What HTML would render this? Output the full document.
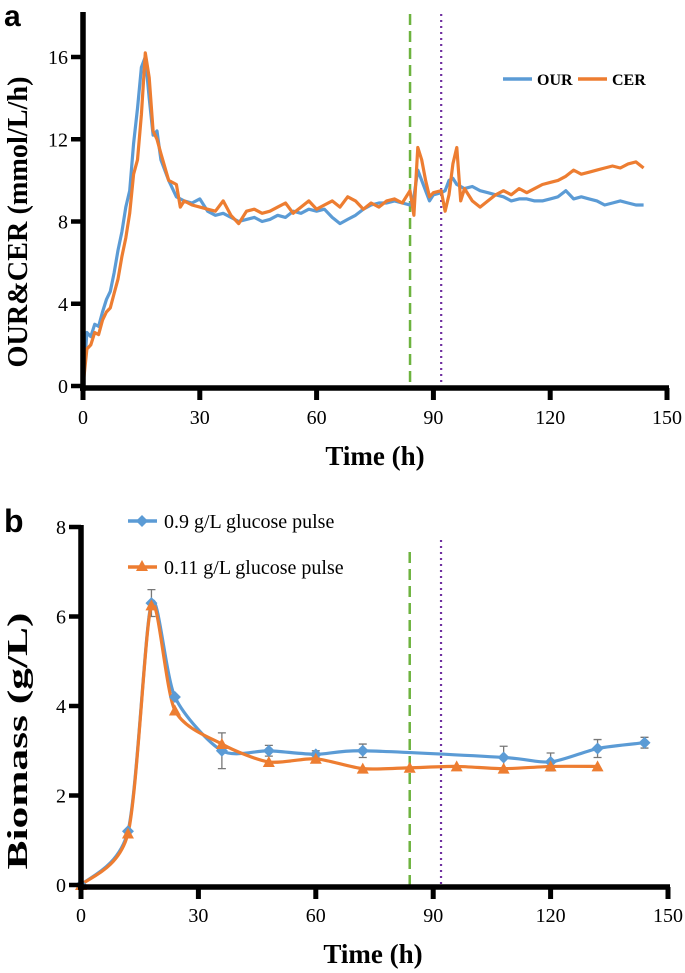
<!DOCTYPE html>
<html><head><meta charset="utf-8"><style>
html,body{margin:0;padding:0;background:#fff}
svg{display:block}
text{font-family:"Liberation Serif",serif;fill:#000}
</style></head><body>
<svg id="chart" width="685" height="973" viewBox="0 0 685 973"></svg>
<script>
// ---- Panel a data ----
const aTime = [0,1,2,3,4,5,6,7,8,9,10,11,12,13,14,15,16,17,18,19,20,22,24,25,26,28,30,32,34,36,38,40,42,44,46,48,50,52,54,56,58,60,62,64,66,68,70,72,74,76,78,80,82,84,85,86,87,88,89,90,92,93,94,95,96,97,98,100,102,104,106,108,110,112,114,116,118,120,122,124,126,128,130,132,134,136,138,140,142,144];
const ourValues = [0,2.6,2.4,3,2.9,3.6,4.2,4.6,5.5,6.6,7.5,8.7,9.5,11.8,13.5,15.5,16,14,12.2,12.4,11,10,9.2,9.1,9,8.9,9.1,8.5,8.3,8.4,8.2,8.0,8.1,8.2,8.0,8.1,8.3,8.2,8.5,8.4,8.6,8.5,8.6,8.2,7.9,8.1,8.3,8.6,8.8,8.9,8.9,9.0,8.9,8.8,9.2,10.5,10,9.5,9.0,9.3,9.4,9.5,10.0,10.1,9.8,9.7,9.6,9.7,9.5,9.4,9.3,9.2,9.0,9.1,9.1,9.0,9.0,9.1,9.2,9.5,9.1,9.2,9.1,9.0,8.8,8.9,9.0,8.9,8.8,8.8];
const cerValues = [0,1.8,2.0,2.6,2.5,3.2,3.6,3.8,4.5,5.2,6.3,7.2,8.4,10.3,11,13.2,16.2,15,12.4,12.0,11.3,10,9.8,8.7,9.0,8.8,8.7,8.6,8.5,9.0,8.3,7.9,8.5,8.6,8.4,8.5,8.7,8.9,8.4,8.7,9.0,8.6,8.8,9.0,8.7,9.2,9.0,8.6,8.9,8.7,9.0,9.1,8.9,9.5,8.3,11.6,11,10,9.2,9.4,9.5,8.5,9.3,10.8,11.6,9,9.6,9.0,8.7,9.0,9.3,9.5,9.3,9.6,9.4,9.6,9.8,9.9,10.0,10.2,10.5,10.3,10.4,10.5,10.6,10.7,10.6,10.8,10.9,10.6];
const aXTicks = [0,30,60,90,120,150];
const aYTicks = [0,4,8,12,16];
// ---- Panel b data ----
const bBlueTime = [0,12,18,24,36,48,60,72,108,120,132,144];
const bBlueValues = [0,1.2,6.3,4.2,3.0,3.0,2.92,3.0,2.85,2.75,3.05,3.18];
const bBlueErr = [0,0,0.3,0,0.4,0.12,0.08,0.15,0.25,0.2,0.2,0.12];
const bOrangeTime = [0,12,18,24,36,48,60,72,84,96,108,120,132];
const bOrangeValues = [0,1.15,6.25,3.9,3.15,2.75,2.82,2.6,2.62,2.65,2.6,2.65,2.65];
const bXTicks = [0,30,60,90,120,150];
const bYTicks = [0,2,4,6,8];
const markerLines = [84,92];

const NS='http://www.w3.org/2000/svg';
const svg=document.getElementById('chart');
function mk(tag,attrs,parent){const e=document.createElementNS(NS,tag);for(const k in attrs)e.setAttribute(k,attrs[k]);(parent||svg).appendChild(e);return e;}
function txt(s,attrs,parent){const e=mk('text',attrs,parent);e.textContent=s;return e;}

const ax=t=>83+t*(667-83)/150, ay=v=>386-v*(386-57)/16;
const bx=t=>81+t*(668-81)/150, by=v=>885-v*(885-527)/8;

// ---------- Panel a ----------
const ga=mk('g',{});


let e=txt('a',{x:4,y:26,'font-size':30,'font-weight':'bold',style:'font-family:"Liberation Sans",sans-serif'},ga);

e=mk('line',{x1:ax(markerLines[0]),x2:ax(markerLines[0]),y1:14,y2:386,stroke:'#6db33f','stroke-width':2.5,'stroke-dasharray':'11,6'},ga);

e=mk('line',{x1:ax(markerLines[1]),x2:ax(markerLines[1]),y1:14,y2:386,stroke:'#7030a0','stroke-width':2.2,'stroke-dasharray':'2,4'},ga);

function poly(times,vals,fx,fy){return times.map((t,i)=>fx(t).toFixed(1)+','+fy(vals[i]).toFixed(1)).join(' ');}
e=mk('polyline',{points:poly(aTime,ourValues,ax,ay),fill:'none',stroke:'#5b9bd5','stroke-width':3.2,'stroke-linejoin':'round'},ga);

e=mk('polyline',{points:poly(aTime,cerValues,ax,ay),fill:'none',stroke:'#ed7d31','stroke-width':3.2,'stroke-linejoin':'round'},ga);

e=mk('line',{x1:83,x2:83,y1:12,y2:391,stroke:'#000','stroke-width':5.5},ga);

e=mk('line',{x1:80,x2:669,y1:388,y2:388,stroke:'#000','stroke-width':5.5},ga);

aXTicks.forEach(t=>{
  const l=mk('line',{x1:ax(t),x2:ax(t),y1:388,y2:400,stroke:'#000','stroke-width':5},ga);
  
  const s=txt(String(t),{x:ax(t),y:424,'font-size':20,'text-anchor':'middle'},ga);
  
});
aYTicks.forEach(v=>{
  const l=mk('line',{x1:71,x2:83,y1:ay(v),y2:ay(v),stroke:'#000','stroke-width':4.5},ga);
  
  const s=txt(String(v),{x:68,y:ay(v)+7,'font-size':20,'text-anchor':'end'},ga);
  
});
e=txt('Time (h)',{x:375,y:465,'font-size':27,'font-weight':'bold','text-anchor':'middle'},ga);

e=txt('OUR&CER (mmol/L/h)',{x:0,y:0,'font-size':28,'font-weight':'bold','text-anchor':'middle',textLength:291,lengthAdjust:'spacingAndGlyphs',transform:'translate(27,222) rotate(-90)'},ga);

e=mk('line',{x1:503,x2:532,y1:79,y2:79,stroke:'#5b9bd5','stroke-width':3.5},ga);

e=txt('OUR',{x:537,y:85,'font-size':16,'font-weight':'bold'},ga);

e=mk('line',{x1:578,x2:607,y1:79,y2:79,stroke:'#ed7d31','stroke-width':3.5},ga);

e=txt('CER',{x:612,y:85,'font-size':16,'font-weight':'bold'},ga);


// ---------- Panel b ----------
const gb=mk('g',{});


e=txt('b',{x:4,y:532,'font-size':32,'font-weight':'bold',style:'font-family:"Liberation Sans",sans-serif'},gb);

e=mk('line',{x1:bx(markerLines[0]),x2:bx(markerLines[0]),y1:552,y2:885,stroke:'#6db33f','stroke-width':2.5,'stroke-dasharray':'11,6'},gb);

e=mk('line',{x1:bx(markerLines[1]),x2:bx(markerLines[1]),y1:540,y2:885,stroke:'#7030a0','stroke-width':2.2,'stroke-dasharray':'2,4'},gb);

function smooth(times,vals,fx,fy){
  const p=times.map((t,i)=>[fx(t),fy(vals[i])]);
  let d='M'+p[0][0]+','+p[0][1];
  for(let i=0;i<p.length-1;i++){
    const p0=p[Math.max(0,i-1)],p1=p[i],p2=p[i+1],p3=p[Math.min(p.length-1,i+2)];
    const k=0.13;
    const c1=[p1[0]+(p2[0]-p0[0])*k,p1[1]+(p2[1]-p0[1])*k];
    const c2=[p2[0]-(p3[0]-p1[0])*k,p2[1]-(p3[1]-p1[1])*k];
    d+=' C'+c1.join(',')+' '+c2.join(',')+' '+p2.join(',');
  }
  return d;
}
bBlueTime.forEach((t,i)=>{
  if(!bBlueErr[i])return;
  const x=bx(t),y1=by(bBlueValues[i]+bBlueErr[i]),y2=by(bBlueValues[i]-bBlueErr[i]);
  const g=mk('path',{d:`M${x},${y1}V${y2}M${x-4},${y1}H${x+4}M${x-4},${y2}H${x+4}`,stroke:'#777','stroke-width':1.3,fill:'none'},gb);
  
});
e=mk('path',{d:smooth(bBlueTime,bBlueValues,bx,by),fill:'none',stroke:'#5b9bd5','stroke-width':3.2},gb);

e=mk('path',{d:smooth(bOrangeTime,bOrangeValues,bx,by),fill:'none',stroke:'#ed7d31','stroke-width':3.2},gb);

bBlueTime.forEach((t,i)=>{
  const x=bx(t),y=by(bBlueValues[i]);
  const m=mk('path',{d:`M${x},${y-6}L${x+6},${y}L${x},${y+6}L${x-6},${y}Z`,fill:'#5b9bd5'},gb);
  
});
bOrangeTime.forEach((t,i)=>{
  const x=bx(t),y=by(bOrangeValues[i]);
  const m=mk('path',{d:`M${x},${y-6}L${x+6},${y+5}L${x-6},${y+5}Z`,fill:'#ed7d31'},gb);
  
});
e=mk('line',{x1:81,x2:81,y1:525,y2:890,stroke:'#000','stroke-width':5.5},gb);

e=mk('line',{x1:78,x2:670,y1:887,y2:887,stroke:'#000','stroke-width':5.5},gb);

bXTicks.forEach(t=>{
  const l=mk('line',{x1:bx(t),x2:bx(t),y1:887,y2:899,stroke:'#000','stroke-width':5},gb);
  
  const s=txt(String(t),{x:bx(t),y:922,'font-size':20,'text-anchor':'middle'},gb);
  
});
bYTicks.forEach(v=>{
  const l=mk('line',{x1:69,x2:81,y1:by(v),y2:by(v),stroke:'#000','stroke-width':4.5},gb);
  
  const s=txt(String(v),{x:66,y:by(v)+7,'font-size':20,'text-anchor':'end'},gb);
  
});
e=txt('Time (h)',{x:373,y:963,'font-size':27,'font-weight':'bold','text-anchor':'middle'},gb);

e=txt('Biomass (g/L)',{x:0,y:0,'font-size':28,'font-weight':'bold','text-anchor':'middle',textLength:257,lengthAdjust:'spacingAndGlyphs',transform:'translate(27,741) rotate(-90)'},gb);

e=mk('line',{x1:128,x2:157,y1:521,y2:521,stroke:'#5b9bd5','stroke-width':3.5},gb);

e=mk('path',{d:'M142,515L148,521L142,527L136,521Z',fill:'#5b9bd5'},gb);

e=txt('0.9 g/L glucose pulse',{x:164,y:528,'font-size':20},gb);

e=mk('line',{x1:128,x2:157,y1:567,y2:567,stroke:'#ed7d31','stroke-width':3.5},gb);

e=mk('path',{d:'M142,560L148,571L136,571Z',fill:'#ed7d31'},gb);

e=txt('0.11 g/L glucose pulse',{x:164,y:574,'font-size':20},gb);

</script>
</body></html>
